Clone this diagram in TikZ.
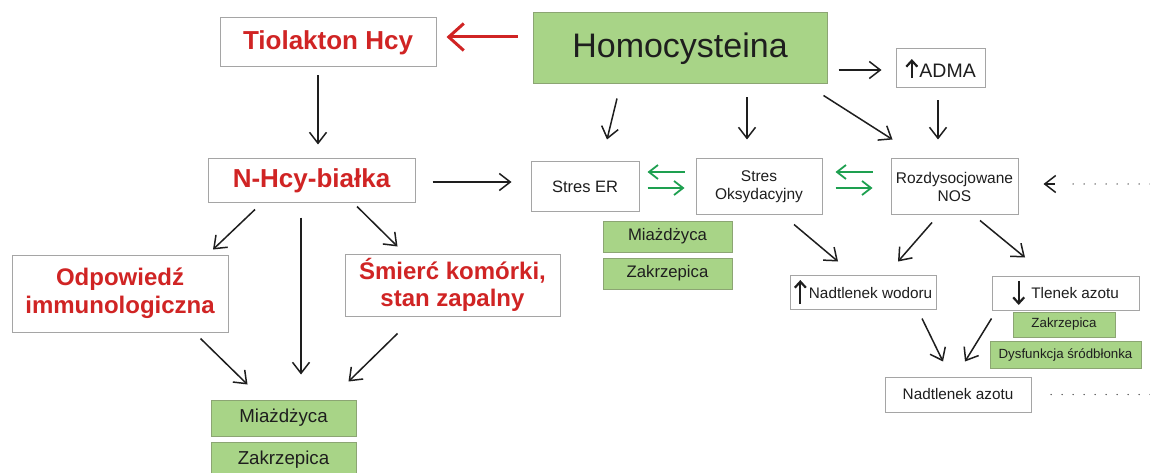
\documentclass[tikz,border=0pt]{standalone}
\usepackage{fontspec}
\setmainfont{Liberation Sans}
\usetikzlibrary{arrows.meta,calc}
\definecolor{boxgray}{RGB}{165,165,165}
\definecolor{boxgreen}{RGB}{168,212,135}
\definecolor{greenedge}{RGB}{140,165,115}
\definecolor{redc}{RGB}{208,36,36}
\definecolor{textdark}{RGB}{30,30,30}
\definecolor{arrowgreen}{RGB}{30,160,80}
% inline vertical arrow: #1 start y, #2 end y (pt, relative to baseline)
\newcommand{\vertarr}[2]{\tikz[baseline=0pt,x=1pt,y=1pt]\draw[draw=textdark,line width=2.2pt,-{Straight Barb[length=6pt,width=11pt,line width=2.2pt]}] (0,#1)--(0,#2);}
\begin{document}
\begin{tikzpicture}[x=1pt,y=-1pt,
  box/.style={draw=boxgray,line width=1pt,fill=white,inner sep=0pt,text=textdark},
  greenbox/.style={draw=greenedge,line width=1pt,fill=boxgreen,inner sep=0pt,text=textdark},
  redbox/.style={box,text=redc},
  conn/.style={draw=textdark,line width=1.5pt,-{Straight Barb[length=11pt,width=17pt,line width=1.5pt]}},
  redconn/.style={draw=redc,line width=3pt,-{Straight Barb[length=15pt,width=27pt,line width=3pt]}},
  greenconn/.style={draw=arrowgreen,line width=1.8pt,-{Straight Barb[length=9pt,width=14pt,line width=1.8pt]}},
  dotline/.style={draw=textdark!80,line width=1.5pt,line cap=round,dash pattern=on 0pt off 11pt}
]
\useasboundingbox (0,0) rectangle (1150,473);
\fill[white] (0,0) rectangle (1150,473);

% nodes
\node[greenbox,minimum width=294pt,minimum height=71pt,font=\fontsize{34}{40}\selectfont] (hcy) at (680,48.5) {Homocysteina};
\node[redbox,minimum width=216pt,minimum height=49pt,font=\fontsize{26}{30}\selectfont\bfseries] (tio) at (328,42.5) {Tiolakton Hcy};
\node[box,minimum width=89pt,minimum height=39pt,font=\fontsize{19.5}{22}\selectfont] (adma) at (940.5,68.5) {\vertarr{-1}{18}\hspace{1pt}ADMA};
\node[box,minimum width=108pt,minimum height=49pt,font=\fontsize{16.5}{19}\selectfont] (er) at (585,186.5) {Stres ER};
\node[box,align=center,minimum width=126pt,minimum height=55pt,font=\fontsize{15.5}{18}\selectfont] (oks) at (759,186.5) {Stres\\Oksydacyjny};
\node[box,align=center,minimum width=127pt,minimum height=55pt,font=\fontsize{15.5}{18}\selectfont] (nos) at (954.5,186.5) {Rozdysocjowane\\NOS};
\node[redbox,minimum width=207pt,minimum height=43pt,font=\fontsize{26}{30}\selectfont\bfseries] (nhcy) at (311.5,180.5) {N-Hcy-białka};
\node[redbox,align=center,minimum width=216pt,minimum height=77pt,font=\fontsize{24}{28}\selectfont\bfseries] (odp) at (120,293.5) {Odpowiedź\\immunologiczna};
\node[redbox,align=center,minimum width=215pt,minimum height=62pt,font=\fontsize{24}{27}\selectfont\bfseries] (smierc) at (452.5,285) {Śmierć komórki,\\stan zapalny};
\node[greenbox,minimum width=145pt,minimum height=36pt,font=\fontsize{18.7}{22}\selectfont] (miazL) at (283.5,418) {Miażdżyca};
\node[greenbox,minimum width=145pt,minimum height=36pt,font=\fontsize{18.7}{22}\selectfont] (zakL) at (283.5,460) {Zakrzepica};
\node[greenbox,minimum width=129pt,minimum height=31pt,font=\fontsize{16.7}{20}\selectfont] (miazM) at (667.5,236.5) {Miażdżyca};
\node[greenbox,minimum width=129pt,minimum height=31pt,font=\fontsize{16.7}{20}\selectfont] (zakM) at (667.5,273.5) {Zakrzepica};
\node[box,minimum width=146pt,minimum height=34pt,font=\fontsize{15.3}{18}\selectfont] (nw) at (863,292) {\vertarr{-6}{18}\hspace{2pt}Nadtlenek wodoru};
\node[box,minimum width=147pt,minimum height=34pt,font=\fontsize{15.3}{18}\selectfont] (tl) at (1065.5,293) {\vertarr{18}{-6}\hspace{6pt}Tlenek azotu};
\node[greenbox,minimum width=102pt,minimum height=25pt,font=\fontsize{13.3}{16}\selectfont] (zakR) at (1064,324.5) {Zakrzepica};
\node[greenbox,minimum width=151pt,minimum height=27pt,font=\fontsize{13.3}{16}\selectfont] (dys) at (1065.5,354.5) {Dysfunkcja śródbłonka};
\node[box,minimum width=146pt,minimum height=35pt,font=\fontsize{15.3}{18}\selectfont] (na) at (958,394.5) {Nadtlenek azotu};

\coordinate (dotsA) at (1150,184);
\coordinate (dotsB) at (1150,394.5);

% connectors
\draw[redconn] ([shift={(-15,-11.5)}]hcy.west) -- ([shift={(10,-5.5)}]tio.east);
\draw[conn] ([shift={(-10,8)}]tio.south) -- ([shift={(6.5,-14)}]nhcy.north);
\draw[conn] ([shift={(17,1.5)}]nhcy.east) -- ([shift={(-19,-4.5)}]er.west);
\draw[conn] ([shift={(11,21.5)}]hcy.east) -- ([shift={(-14,1.5)}]adma.west);
\draw[conn] ([shift={(-63,14)}]hcy.south) -- ([shift={(22,-22)}]er.north);
\draw[conn] ([shift={(67,13)}]hcy.south) -- ([shift={(-12,-19)}]oks.north);
\draw[conn] ([shift={(-4,11)}]hcy.south east) -- ([shift={(2,-19)}]nos.north west);
\draw[conn] ([shift={(-2.5,12)}]adma.south) -- ([shift={(-16.5,-19)}]nos.north);

\draw[greenconn] ([shift={(-11,-14.5)}]oks.west) -- ([shift={(8,-14.5)}]er.east);
\draw[greenconn] ([shift={(8,1.5)}]er.east) -- ([shift={(-11,1.5)}]oks.west);
\draw[greenconn] ([shift={(-18,-14.5)}]nos.west) -- ([shift={(13,-14.5)}]oks.east);
\draw[greenconn] ([shift={(13,1.5)}]oks.east) -- ([shift={(-18,1.5)}]nos.west);

\draw[conn] ([shift={(35,10)}]oks.south) -- ([shift={(-25,-13)}]nw.north);
\draw[conn] ([shift={(-22.5,8)}]nos.south) -- ([shift={(35,-13)}]nw.north);
\draw[conn] ([shift={(25.5,6)}]nos.south) -- ([shift={(-40.5,-18)}]tl.north);
\draw[conn] ([shift={(59,9)}]nw.south) -- ([shift={(-15,-15)}]na.north);
\draw[conn] ([shift={(0,8)}]tl.south west) -- ([shift={(7,-15)}]na.north);

\draw[conn] ([shift={(-56.5,7)}]nhcy.south) -- ([shift={(93,-5)}]odp.north);
\draw[conn] ([shift={(-10.5,15)}]nhcy.south) -- ([shift={(17.5,-25)}]miazL.north);
\draw[conn] ([shift={(45.5,4)}]nhcy.south) -- ([shift={(53,-7)}]smierc.north west);
\draw[conn] ([shift={(-28,6)}]odp.south east) -- ([shift={(37,-15)}]miazL.north west);
\draw[conn] ([shift={(53,17)}]smierc.south west) -- ([shift={(-8,-18)}]miazL.north east);

% dotted lines
\draw[dotline] (dotsA) -- ([shift={(44,-2.5)}]nos.east);
\draw[conn] ([shift={(36,-2.5)}]nos.east) -- ([shift={(25,-2.5)}]nos.east);
\draw[dotline] (dotsB) -- ([shift={(10,0)}]na.east);
\end{tikzpicture}
\end{document}
